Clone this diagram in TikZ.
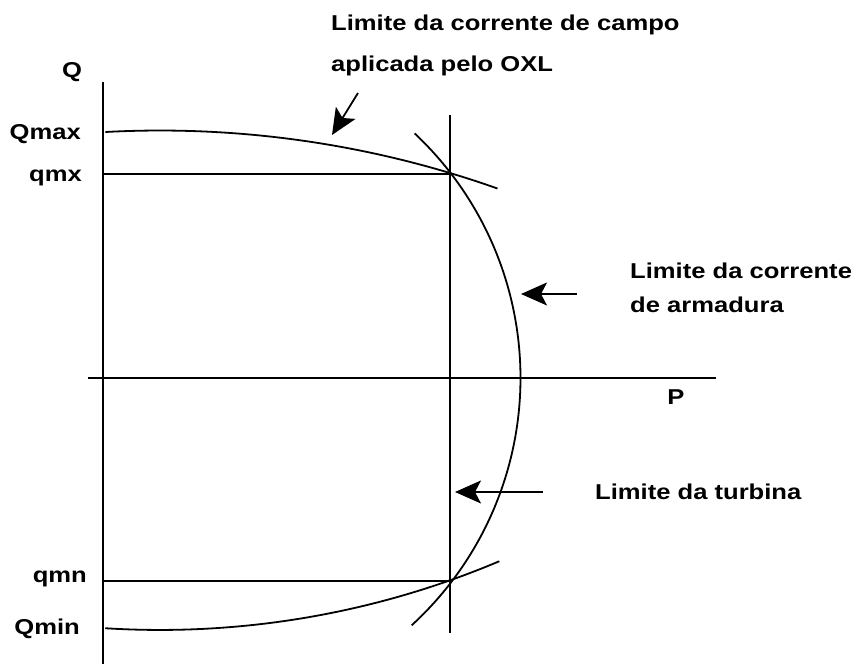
\documentclass[tikz,border=0pt]{standalone}
\usepackage{fontspec}
\setmainfont{Liberation Sans}[FakeStretch=1.19]
\usetikzlibrary{arrows.meta}
\begin{document}
\begin{tikzpicture}[x=1pt,y=1pt,
  ln/.style={line width=1.8pt},
  pt/.style={ln,-{Stealth[length=26pt,width=23pt,inset=6pt]}},
  lab/.style={inner sep=0pt,font=\fontsize{21.5}{26}\selectfont\bfseries}]
\path[use as bounding box,fill=white] (0,0) rectangle (856,669);
% axes and lines
\coordinate (qtop) at (103,587);
\coordinate (qbot) at (103,5);
\coordinate (pl) at (88,291);
\coordinate (pr) at (716,291);
\coordinate (tt) at (450,554);
\coordinate (tb) at (450,36);
\coordinate (qmxL) at (103,495);
\coordinate (qmxR) at (450,495);
\coordinate (qmnL) at (103,88);
\coordinate (qmnR) at (451,88);
\draw[ln] (qtop) -- (qbot);
\draw[ln] (pl) -- (pr);
\draw[ln] (tt) -- (tb);
\draw[ln] (qmxL) -- (qmxR);
\draw[ln] (qmnL) -- (qmnR);
% armature current limit
\coordinate (ca) at (185,291);
\draw[ln] (ca) ++(-47.5:335.5) arc[start angle=-47.5,end angle=46.8,radius=335.5];
% field current limit (top) and bottom limit
\coordinate (cf) at (160,-472.5);
\draw[ln] (cf) ++(93.1:1011) arc[start angle=93.1,end angle=70.5,radius=1011];
\coordinate (cm) at (160,911);
\draw[ln] (cm) ++(-93.6:872) arc[start angle=-93.6,end angle=-67.1,radius=872];
% labels
\node[lab] (Q) at (72,597) {Q};
\node[lab,anchor=base east] (Qmax) at (81,529) {Qmax};
\node[lab,anchor=base east] (qmx) at (82,487) {qmx};
\node[lab,anchor=base east] (qmn) at (87,86) {qmn};
\node[lab,anchor=base east] (Qmin) at (80,35) {Qmin};
\node[lab,anchor=base] (P) at (676,264) {P};
\node[lab,anchor=base west,align=left,font=\fontsize{21.5}{41}\selectfont\bfseries] (oxl) at (331,597) {Limite da corrente de campo\\aplicada pelo OXL};
\node[lab,anchor=base west,align=left,font=\fontsize{21.5}{34}\selectfont\bfseries] (arm) at (630,356) {Limite da corrente\\de armadura};
\node[lab,anchor=base west] (tur) at (595,169) {Limite da turbina};
% pointer arrows
\coordinate (a1s) at (358,576);
\coordinate (a1e) at (332,534);
\coordinate (a2s) at (577,375);
\coordinate (a2e) at (521,375);
\coordinate (a3s) at (543,177);
\coordinate (a3e) at (455,177);
\draw[pt] (a1s) -- (a1e);
\draw[pt] (a2s) -- (a2e);
\draw[pt] (a3s) -- (a3e);
\end{tikzpicture}
\end{document}
